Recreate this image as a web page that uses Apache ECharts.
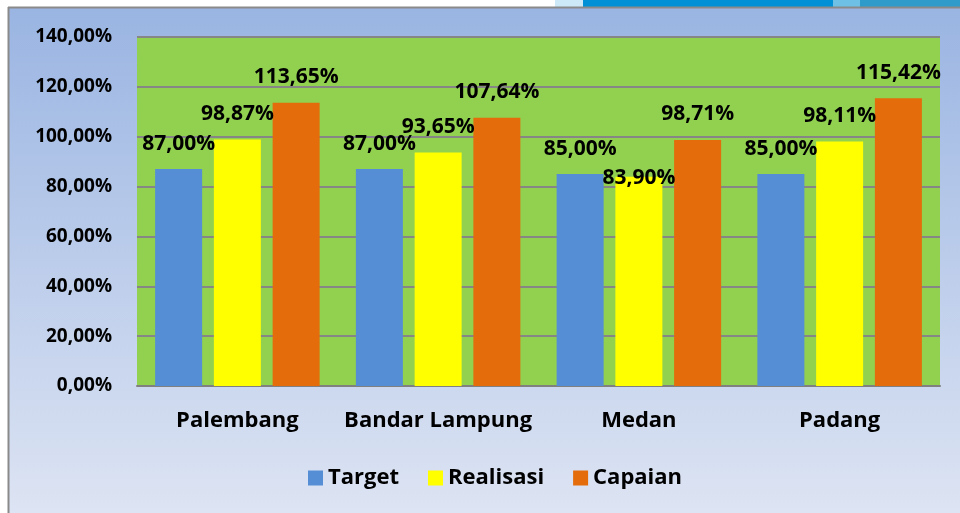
<!DOCTYPE html>
<html>
<head>
<meta charset="utf-8">
<script src="https://cdn.jsdelivr.net/npm/echarts@6/dist/echarts.min.js"></script>
<style>
html,body{margin:0;padding:0;background:#fff;}
#chart{width:960px;height:513px;}
</style>
</head>
<body>
<div id="chart"></div>
<script>
/*----------data----------*/
var cities=["Palembang","Bandar Lampung","Medan","Padang"];
var seriesNames=["Target","Realisasi","Capaian"];
var target=[87.00,87.00,85.00,85.00];
var realisasi=[98.87,93.65,83.90,98.11];
var capaian=[113.65,107.64,98.71,115.42];
var yTicks=[0,20,40,60,80,100,120,140];
/*----------function------*/
var font="Open Sans";
function pct(v){	//format like 87,00%
	return v.toFixed(2).replace(".",",")+"%";
}
function barData(arr,low){	//low: index whose label sits on the bar top
	return arr.map(function(v,i){
		if(i===low){
			return {value:v,label:{offset:[0,27]}};
		}
		return v;
	});
}
function makeSeries(name,arr,color,low){
	return {
		type:"bar",
		name:name,
		data:barData(arr,low),
		barWidth:47,
		barGap:"25%",
		itemStyle:{color:color},
		label:{
			show:true,
			position:"top",
			distance:15,
			formatter:function(p){return pct(p.value);},
			color:"#000",
			fontFamily:font,
			fontWeight:"bold",
			fontSize:21
		}
	};
}
var chart=echarts.init(document.getElementById("chart"));
var option={
	animation:false,
	backgroundColor:{
		type:"linear",x:0,y:0,x2:0,y2:1,
		colorStops:[{offset:0,color:"#99b4e2"},{offset:1,color:"#dde4f3"}]
	},
	graphic:[
		{type:"rect",shape:{x:0,y:0,width:960,height:7},style:{fill:"#fff"}},
		{type:"rect",shape:{x:0,y:0,width:8,height:513},style:{fill:"#fff"}},
		{type:"rect",shape:{x:555,y:0,width:28,height:7},style:{fill:"#cde8f6"}},
		{type:"rect",shape:{x:583,y:0,width:250,height:7},style:{fill:"#0090d6"}},
		{type:"rect",shape:{x:833,y:0,width:27,height:7},style:{fill:"#6ec0e4"}},
		{type:"rect",shape:{x:860,y:0,width:100,height:7},style:{fill:"#2e9bcb"}},
		{type:"line",shape:{x1:8.5,y1:7,x2:8.5,y2:513},style:{stroke:"#8a8a8a",lineWidth:2}},
		{type:"line",shape:{x1:8,y1:7.5,x2:960,y2:7.5},style:{stroke:"#8a8a8a",lineWidth:2}}
	],
	grid:{
		left:137,right:20,top:37,bottom:127,
		show:true,
		backgroundColor:"#92d050",
		borderWidth:0
	},
	legend:{
		left:303,
		top:462,
		itemWidth:15,
		itemHeight:15,
		itemGap:29,
		icon:"rect",
		data:seriesNames,
		textStyle:{
			color:"#000",
			fontFamily:font,
			fontWeight:"bold",
			fontSize:22
		}
	},
	xAxis:{
		type:"category",
		data:cities,
		axisTick:{show:false},
		axisLine:{lineStyle:{color:"#808080",width:2}},
		axisLabel:{
			interval:0,
			margin:24,
			color:"#000",
			fontFamily:font,
			fontWeight:"bold",
			fontSize:22
		}
	},
	yAxis:{
		type:"value",
		min:yTicks[0],
		max:yTicks[yTicks.length-1],
		interval:yTicks[1]-yTicks[0],
		axisLine:{show:false},
		axisTick:{show:false},
		splitLine:{lineStyle:{color:"#868686",width:2}},
		axisLabel:{
			margin:25,
			padding:[6,0,0,0],
			color:"#000",
			fontFamily:font,
			fontWeight:"bold",
			fontSize:19,
			formatter:function(v){return pct(v);}
		}
	},
	series:[
		makeSeries(seriesNames[0],target,"#558ed5",-1),
		makeSeries(seriesNames[1],realisasi,"#ffff00",2),
		makeSeries(seriesNames[2],capaian,"#e46c0a",-1)
	]
};
chart.setOption(option);
</script>
</body>
</html>
